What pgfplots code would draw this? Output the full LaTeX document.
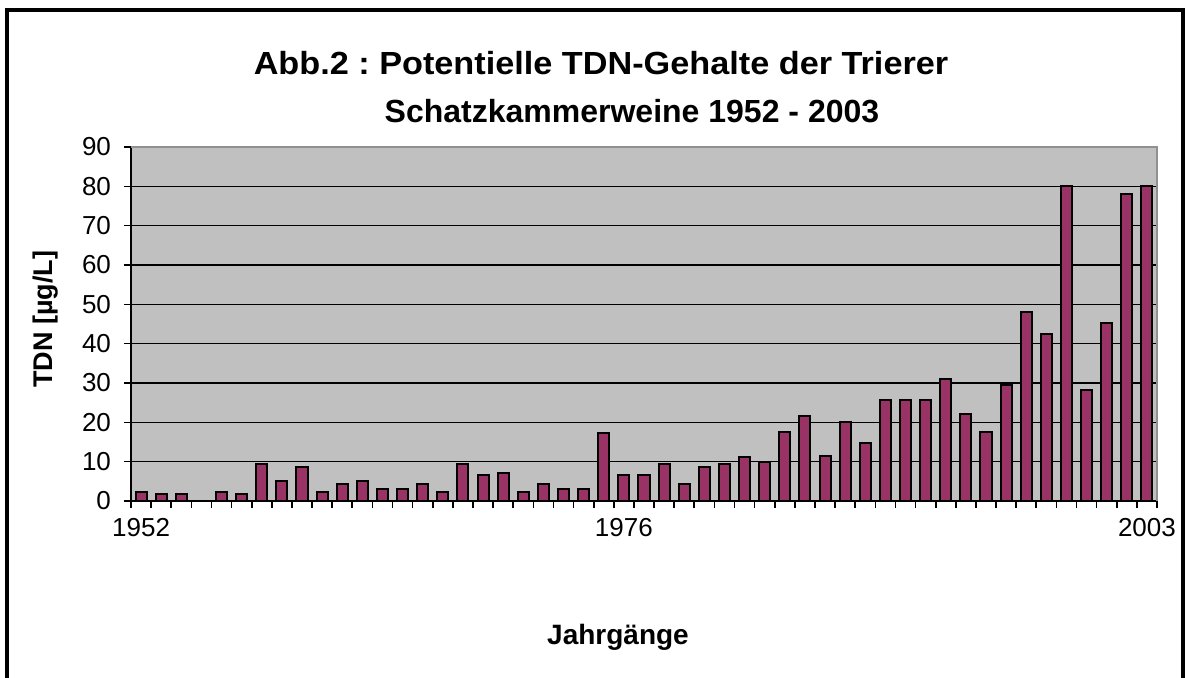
\documentclass[border=0pt]{standalone}
\usepackage{fontspec}
\setmainfont{Liberation Sans}
\usepackage{pgfplots}
\pgfplotsset{compat=1.18}
\definecolor{barc}{HTML}{993366}
\definecolor{plotbg}{HTML}{C0C0C0}
\definecolor{edgegray}{HTML}{909090}
\frenchspacing
\begin{document}
\begin{tikzpicture}[x=0.5pt,y=0.5pt]
\path[use as bounding box] (0,0) rectangle (1190,677);
\draw[line width=2pt] (7,-5) -- (7,667) -- (1183,667) -- (1183,-5);
\node[font=\bfseries\fontsize{16pt}{19pt}\selectfont, anchor=base, inner sep=0pt, xscale=1.07] at (601,603) {Abb.2 : Potentielle TDN-Gehalte der Trierer};
\node[font=\bfseries\fontsize{16pt}{19pt}\selectfont, anchor=base, inner sep=0pt] at (632,555) {Schatzkammerweine 1952 - 2003};
\node[font=\bfseries\fontsize{14pt}{16pt}\selectfont, anchor=base, inner sep=0pt] at (618,33) {Jahrgänge};
\node[font=\bfseries\fontsize{13.5pt}{16pt}\selectfont, rotate=90, inner sep=0pt] at (46,358) {TDN [µg/L]};
\begin{axis}[
  at={(65.5pt,88pt)}, anchor=south west,
  width=513pt, height=177pt, scale only axis,
  xmin=0.5, xmax=51.5, ymin=0, ymax=90,
  axis background/.style={fill=plotbg},
  axis x line*=bottom, axis y line*=left,
  axis line style={line width=0.9pt, -},
  ytick={0,10,...,90},
  xtick={0.5,1.5,...,51.5},
  xticklabels={},
  extra x ticks={1,25,51},
  extra x tick labels={1952,1976,2003},
  extra x tick style={major tick length=0pt, grid=none},
  tick align=outside,
  major tick length=3.5pt,
  tick style={black, line width=0.8pt},
  ymajorgrids,
  major grid style={black, line width=0.75pt},
  tick label style={font=\fontsize{13pt}{15pt}\selectfont},
  /pgf/number format/assume math mode=true,
  yticklabel style={xshift=-3pt},
  xticklabel style={yshift=-5pt},
  ylabel={}, xlabel={},
  clip=false,
]
\addplot[ybar, bar width=0.55, fill=barc, draw=black, line width=1pt] coordinates {
(1,2.3) (2,1.8) (3,1.8) (5,2.3) (6,1.8) (7,9.3) (8,5.2) (9,8.6) (10,2.3)
(11,4.4) (12,5.2) (13,3.1) (14,3.1) (15,4.4) (16,2.3) (17,9.3) (18,6.6) (19,7.2) (20,2.3)
(21,4.4) (22,3.1) (23,3.1) (24,17.3) (25,6.6) (26,6.6) (27,9.3) (28,4.4) (29,8.6) (30,9.3)
(31,11.3) (32,10.0) (33,17.5) (34,21.5) (35,11.4) (36,20.2) (37,14.8) (38,25.6) (39,25.6) (40,25.6)
(41,31.0) (42,22.1) (43,17.5) (44,29.5) (45,48.0) (46,42.5) (47,80.0) (48,28.3) (49,45.3) (50,78.0)
(51,80.0)
};
\draw[edgegray, line width=1pt] (rel axis cs:0,1) -- (rel axis cs:1,1) -- (rel axis cs:1,0);
\end{axis}
\end{tikzpicture}
\end{document}
